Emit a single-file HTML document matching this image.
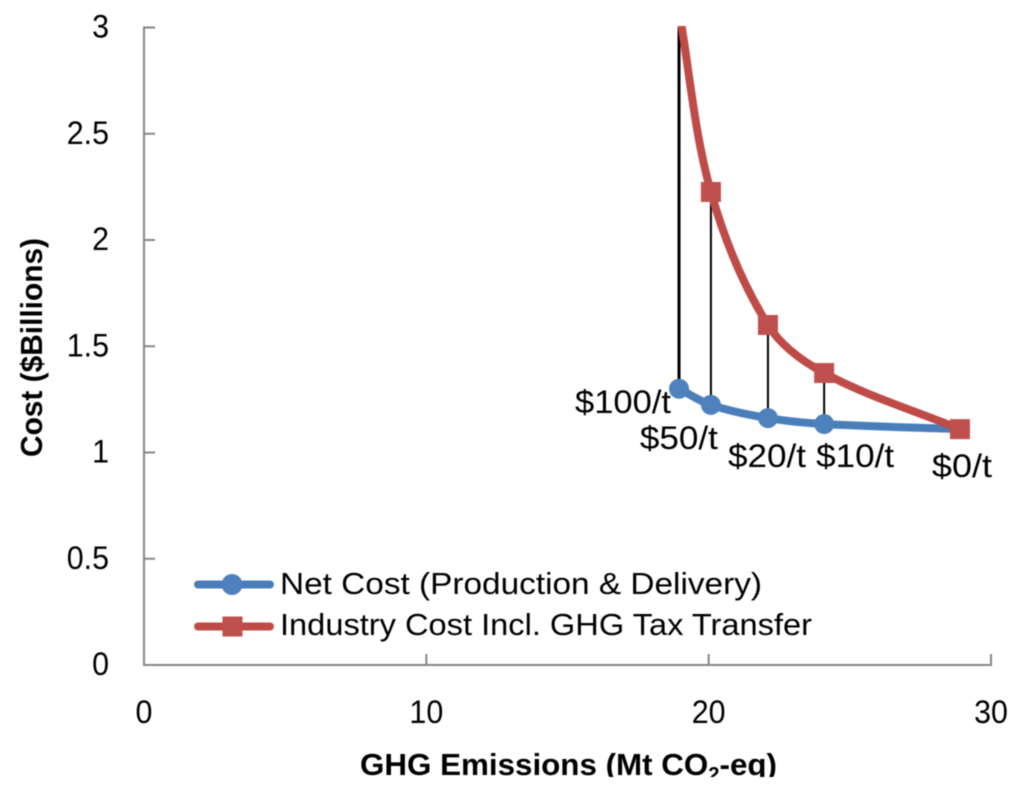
<!DOCTYPE html>
<html lang="en">
<head>
<meta charset="utf-8">
<title>Cost vs GHG Emissions</title>
<style>
html,body{margin:0;padding:0;background:#fff;width:1024px;height:793px;overflow:hidden}
svg{display:block;filter:blur(0.4px)}
text{font-family:"Liberation Sans",sans-serif;fill:#000}
</style>
</head>
<body>
<svg id="chart" xmlns="http://www.w3.org/2000/svg" width="1024" height="793" viewBox="0 0 1024 793">
  <defs>
    <clipPath id="plot-clip"><rect x="144" y="26" width="860" height="641"/></clipPath>
    <clipPath id="title-clip"><rect x="300" y="740" width="520" height="37"/></clipPath>
  </defs>
  <rect x="0" y="0" width="1024" height="793" fill="#ffffff"/>
  <g id="axes"></g>
  <g id="drops"></g>
  <g id="series" clip-path="url(#plot-clip)"></g>
  <g id="labels"></g>
  <text transform="translate(42,457) rotate(-90)" font-size="31" font-weight="bold" textLength="219" lengthAdjust="spacingAndGlyphs">Cost ($Billions)</text>
  <g clip-path="url(#title-clip)">
    <text x="360" y="775" font-size="31" font-weight="bold" textLength="417" lengthAdjust="spacingAndGlyphs">GHG Emissions (Mt CO<tspan font-size="20" dy="6">2</tspan><tspan dy="-6">-eq)</tspan></text>
  </g>
  <g>
    <g>
      <line x1="198" y1="584.5" x2="270" y2="584.5" stroke="#4A7EBB" stroke-width="8" stroke-linecap="round"/>
      <circle cx="232" cy="584.5" r="10.5" fill="#4F81BD"/>
      <text x="280" y="594" font-size="31" textLength="482" lengthAdjust="spacingAndGlyphs">Net Cost (Production &amp; Delivery)</text>
    </g>
    <g>
      <line x1="198" y1="626.5" x2="270" y2="626.5" stroke="#BE4B48" stroke-width="8" stroke-linecap="round"/>
      <rect x="222.500" y="616.500" width="20" height="20" fill="#C0504D"/>
      <text x="280" y="635" font-size="31" textLength="532" lengthAdjust="spacingAndGlyphs">Industry Cost Incl. GHG Tax Transfer</text>
    </g>
  </g>
</svg>
<script>
const emissions = [18.95, 20.08, 22.1, 24.09, 28.9];
const netCost = [1.3, 1.224, 1.162, 1.134, 1.11];
const industryCost = [3.08, 2.226, 1.6, 1.374, 1.11];
const priceLabels = ['$100/t', '$50/t', '$20/t', '$10/t', '$0/t'];
const xTicks = [0, 10, 20, 30];
const yTicks = [0, 0.5, 1, 1.5, 2, 2.5, 3];

const NS = 'http://www.w3.org/2000/svg';
function xScale(v) { return 144 + v * (991 - 144) / 30; }
function yScale(v) { return 665 - v * (665 - 27.5) / 3; }
function make(tag, parent, attrs) {
  const el = document.createElementNS(NS, tag);
  for (const k in attrs) el.setAttribute(k, attrs[k]);
  parent.appendChild(el);
  return el;
}
function tangent(a, c) {
  const dx = c[0] - a[0], dy = c[1] - a[1], len = Math.hypot(dx, dy) || 1;
  return [dx / len, dy / len];
}
function smoothPath(xs, ys) {
  const p = xs.map((x, i) => [xScale(x), yScale(ys[i])]);
  let d = 'M' + p[0][0] + ' ' + p[0][1];
  for (let i = 0; i < p.length - 1; i++) {
    const a = p[Math.max(i - 1, 0)], b = p[i], c = p[i + 1], e = p[Math.min(i + 2, p.length - 1)];
    const len = Math.hypot(c[0] - b[0], c[1] - b[1]) / 3;
    const t1 = tangent(a, c), t2 = tangent(b, e);
    d += ' C' + (b[0] + t1[0] * len) + ' ' + (b[1] + t1[1] * len) + ' ' +
      (c[0] - t2[0] * len) + ' ' + (c[1] - t2[1] * len) + ' ' + c[0] + ' ' + c[1];
  }
  return d;
}
function squeeze(el) {
  el.setAttribute('textLength', (el.getComputedTextLength() * 0.95).toFixed(2));
  el.setAttribute('lengthAdjust', 'spacingAndGlyphs');
}

const axes = document.getElementById('axes');
const yAxisLine = make('line', axes, { x1: xScale(0), x2: xScale(0), y1: yScale(3) - 1, y2: yScale(0) + 1, stroke: '#868686', 'stroke-width': 2 });


const xAxisLine = make('line', axes, { x1: xScale(0) - 1, x2: xScale(30) + 1, y1: yScale(0), y2: yScale(0), stroke: '#868686', 'stroke-width': 2 });



xTicks.forEach(function (v) {
  const tick = make('line', axes, { x1: xScale(v), x2: xScale(v), y1: yScale(0), y2: yScale(0) - 11, stroke: '#868686', 'stroke-width': 2 });
  
  
  const label = make('text', axes, { x: xScale(v), y: 723, 'font-size': 32, 'text-anchor': 'middle' });
  
  
  label.textContent = String(v);
  squeeze(label);
});
yTicks.forEach(function (v) {
  const tick = make('line', axes, { x1: xScale(0), x2: xScale(0) + 11, y1: yScale(v), y2: yScale(v), stroke: '#868686', 'stroke-width': 2 });
  
  
  const label = make('text', axes, { x: 109, y: yScale(v) + 10, 'font-size': 32, 'text-anchor': 'end' });
  
  
  label.textContent = String(v);
  squeeze(label);
});

const drops = document.getElementById('drops');
emissions.forEach(function (x, i) {
  const top = Math.max(yScale(industryCost[i]), yScale(3));
  const drop = make('line', drops, { x1: xScale(x), x2: xScale(x), y1: top, y2: yScale(netCost[i]), stroke: '#000000', 'stroke-width': i === 0 ? 3 : 2 });
  
  
});

const series = document.getElementById('series');
const blueLine = make('path', series, { d: smoothPath(emissions, netCost), fill: 'none', stroke: '#4A7EBB', 'stroke-width': 8 });


emissions.forEach(function (x, i) {
  const dot = make('circle', series, { cx: xScale(x), cy: yScale(netCost[i]), r: 10, fill: '#4F81BD' });
  
  
});
const redLine = make('path', series, { d: smoothPath(emissions, industryCost), fill: 'none', stroke: '#BE4B48', 'stroke-width': 8 });


emissions.forEach(function (x, i) {
  const sq = make('rect', series, { x: xScale(x) - 10, y: yScale(industryCost[i]) - 10, width: 20, height: 20, fill: '#C0504D' });
  
  
});

const labels = document.getElementById('labels');
function placeLabel(i) {
  const px = xScale(emissions[i]), py = yScale(netCost[i]);
  const placement = [[-104, 24, 96], [-71, 44, 78], [-40, 49, 78], [-8, 43, 78], [-28, 48, 60]][i];
  return { x: px + placement[0], y: py + placement[1], w: placement[2] };
}
priceLabels.forEach(function (t, i) {
  const pos = placeLabel(i);
  const label = make('text', labels, { x: pos.x, y: pos.y, 'font-size': 32, textLength: pos.w, lengthAdjust: 'spacingAndGlyphs' });
  
  
  label.textContent = t;
});
</script>
</body>
</html>
